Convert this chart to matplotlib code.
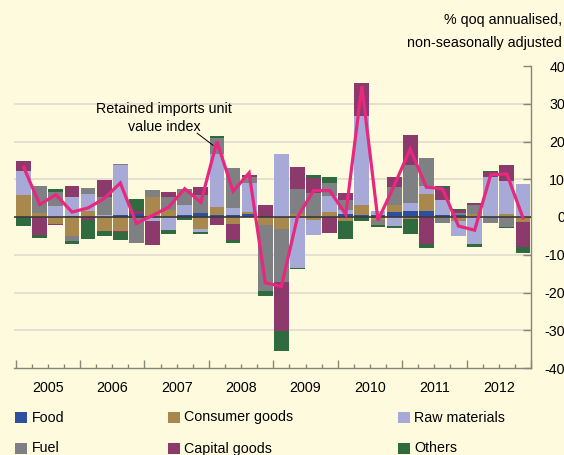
import numpy as np
import matplotlib
matplotlib.use("Agg")
import matplotlib.pyplot as plt
from matplotlib.patches import Rectangle

plt.rcParams['font.family'] = ['Liberation Sans', 'DejaVu Sans']
plt.rcParams['axes.unicode_minus'] = False

# Quarterly contributions, 2005 Q1 - 2012 Q4 (percentage points)
years = ['2005', '2006', '2007', '2008', '2009', '2010', '2011', '2012']
food = [0, 0, 0, 0.3, 0, 0, 0.5, 0.8, 0, 0, 0.5, 1.1, 0.5, 0.5, 0.9, 0,
        0, 0, 0, 0, 0.9, 0.5, 0.5, 1.3, 1.5, 1.5, 0.5, 0.6, 0, 0, 0, 0]
consumer = [5.7, 1.0, -1.8, -5.1, 1.6, -3.7, -3.8, 0, 5.3, 1.9, 0, -3.3,
            2.1, -1.9, 0.4, -2.2, -3.2, 0.9, -0.9, 1.2, -1.1, 2.6, -0.9, 1.8,
            -0.5, 4.5, 0, -1.1, 0.9, 0, 0.9, -1.3]
raw = [6.6, 0, 2.9, 5.0, 4.4, 0.5, 13.3, 0, -1.1, -3.5, 2.6, -0.8,
       14.2, 1.9, 7.6, 0, 16.8, -13.6, -3.9, 4.3, 0.9, 23.7, 1.0, -2.4,
       2.2, 2.3, 3.9, -3.9, -7.2, 10.5, 8.6, 8.8]
fuel = [0, 7.3, 3.7, -1.3, 1.6, 4.9, 0.2, -7.0, 1.9, 3.5, 4.4, 4.6,
        4.1, 10.5, 1.8, -17.4, -14.1, 6.4, 6.3, 3.4, 2.6, 0, -1.3, 4.8,
        10.2, 7.2, -1.6, 0.5, 2.2, -1.6, -2.6, 0]
capital = [2.6, -4.8, -0.3, 2.8, -0.9, 4.3, -0.3, 0.7, -6.3, 1.2, 0, 2.2,
           -2.2, -4.2, 0.3, 3.1, -13.0, 6.0, 3.9, -4.3, 1.9, 8.6, 0, 2.8,
           7.9, -7.2, 3.4, 0.7, 0.7, 1.3, 4.4, -6.6]
others = [-2.4, -0.7, 0.7, -0.8, -5.0, -1.3, -2.0, 3.3, 0, -1.0, -0.7, -0.3,
          0.6, -0.7, 0, -1.2, -5.2, -0.3, 1.0, 1.8, -4.7, -1.1, -0.4, -0.5,
          -3.9, -0.9, 0.3, 0.2, -0.7, 0.3, -0.4, -1.7]
unit_value = [13.2, 3.3, 5.9, 1.3, 2.4, 4.9, 9.0, -1.7, 0.4, 2.6, 7.5, 3.9,
              20.0, 6.8, 11.7, -17.4, -18.4, 0.0, 7.0, 7.0, 0.7, 34.7, -0.9, 8.3,
              18.0, 7.9, 7.5, -2.4, -3.5, 11.2, 11.4, -0.2]

series = [('Food', food, '#2e4fa0'),
          ('Consumer goods', consumer, '#a8884c'),
          ('Raw materials', raw, '#a7a9d7'),
          ('Fuel', fuel, '#7f8083'),
          ('Capital goods', capital, '#8b3a6b'),
          ('Others', others, '#2f6b3f')]

bg = '#fefade'
fs = 10.3
W, H = 564, 455
fig = plt.figure(figsize=(W / 100, H / 100), dpi=100, facecolor=bg)
# axes box in pixels: x 14..531, y 66..368
ax = fig.add_axes([14 / W, 1 - 368 / H, 517 / W, 302 / H], facecolor=bg)

x = np.arange(len(food))
pos_base = np.zeros(len(x))
neg_base = np.zeros(len(x))
for name, vals, col in series:
    v = np.array(vals, dtype=float)
    p = np.where(v > 0, v, 0)
    n = np.where(v < 0, v, 0)
    ax.bar(x, p, bottom=pos_base, width=0.92, color=col, linewidth=0, zorder=2)
    ax.bar(x, n, bottom=neg_base, width=0.92, color=col, linewidth=0, zorder=2)
    pos_base += p
    neg_base += n

for g in [-30, -20, -10, 10, 20, 30]:
    ax.axhline(g, color='#e2dfcf', lw=1.3, zorder=1)
ax.axhline(0, color='#3a3a3a', lw=1.2, zorder=3)

ax.plot(x, unit_value, color='#e6287e', lw=2.3, zorder=4, solid_joinstyle='miter')

# label for the line, with a short leader
ax.text(8.72, 26.3, 'Retained imports unit\nvalue index', ha='center', va='center',
        fontsize=fs, linespacing=1.35)
ax.plot([10.77, 11.76], [22.2, 19.0], color='black', lw=0.7, zorder=5)

ax.set_xlim(-0.6, 31.5)
ax.set_ylim(-40, 40)

for s in ['top', 'left']:
    ax.spines[s].set_visible(False)
for s in ['right', 'bottom']:
    ax.spines[s].set_color('#85857a')
    ax.spines[s].set_linewidth(1.0)

ax.yaxis.tick_right()
ax.set_yticks(np.arange(-40, 41, 10))
ax.tick_params(axis='y', direction='in', length=6, width=1, color='#85857a',
               pad=24.5, labelsize=fs)
for lab in ax.get_yticklabels():
    lab.set_horizontalalignment('right')

ax.set_xticks(np.arange(-0.5, 32, 4))
ax.set_xticks(np.arange(-0.5, 32, 1), minor=True)
ax.set_xticklabels([])
ax.tick_params(axis='x', which='major', direction='in', length=6, width=1, color='#85857a')
ax.tick_params(axis='x', which='minor', direction='in', length=3, width=1, color='#85857a')
for i, yr in enumerate(years):
    ax.text(1.5 + 4 * i, -0.065, yr, transform=ax.get_xaxis_transform(),
            ha='center', va='center', fontsize=fs)

fig.text(562 / W, 1 - 20 / H, '% qoq annualised,', ha='right', va='center', fontsize=fs)
fig.text(562 / W, 1 - 43 / H, 'non-seasonally adjusted', ha='right', va='center', fontsize=fs)

# legend, three columns, two rows
cols_x = [15, 168, 398]
rows_y = [417.5, 448.5]
for i, (name, vals, col) in enumerate(series):
    cx = cols_x[i % 3]
    cy = rows_y[i // 3]
    fig.patches.append(Rectangle((cx / W, 1 - (cy + 5.2) / H), 11.7 / W, 10.4 / H,
                                 transform=fig.transFigure, color=col, lw=0))
    fig.text((cx + 16.5) / W, 1 - cy / H, name, ha='left', va='center', fontsize=fs)

fig.savefig('out.png', dpi=100, facecolor=bg)
